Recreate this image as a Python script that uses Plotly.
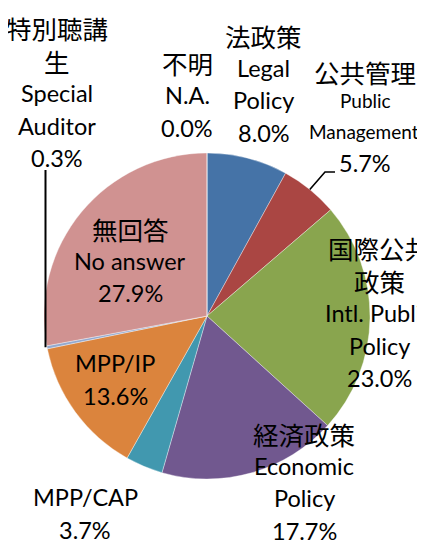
import math
import plotly.graph_objects as go

labels = ["Legal Policy", "Public Management", "Intl. Public Policy", "Economic Policy",
          "MPP/CAP", "MPP/IP", "Special Auditor", "No answer", "N.A."]
values = [8.0, 5.7, 23.0, 17.7, 3.7, 13.6, 0.3, 27.9, 0.0]
colors = ["#4573a7", "#aa4643", "#89a54e", "#71588f", "#4198af", "#db843d",
          "#93a9cf", "#d09291", "#80699b"]

label_lines = [
    ["法政策", "Legal", "Policy", "8.0%"],
    ["公共管理", "Public", "Management", "5.7%"],
    ["国際公共", "政策", "Intl. Public", "Policy", "23.0%"],
    ["経済政策", "Economic", "Policy", "17.7%"],
    ["MPP/CAP", "3.7%"],
    ["MPP/IP", "13.6%"],
    ["特別聴講", "生", "Special", "Auditor", "0.3%"],
    ["無回答", "No answer", "27.9%"],
    ["不明", "N.A.", "0.0%"],
]
# label anchor (center x, first-line y) in page pixels
label_pos = [
    (264, 35), (365, 72), (379, 248), (304, 433), (85, 497),
    (115, 363), (57, 28), (130, 228), (187, 63),
]

OFF = 8  # default page body margin
PW, PH = 425, 545
W, H = PW - OFF, PH - OFF
cx, cy, r = 207, 316, 163


def px(x):
    return (x - OFF) / W


def py(y):
    return 1 - (y - OFF) / H


def is_cjk(t):
    return any(ord(c) > 0x2E80 for c in t)


fig = go.Figure()
fig.add_trace(go.Pie(
    labels=labels, values=values, sort=False, direction="clockwise", rotation=0,
    marker=dict(colors=colors, line=dict(color="rgba(255,255,255,0.6)", width=0.6)),
    textinfo="none", hoverinfo="label+percent", showlegend=False,
    domain=dict(x=[px(cx - r), px(cx + r)], y=[py(cy + r), py(cy - r)]),
))

fam = "Lato, 'Noto Sans CJK JP', sans-serif"
cjk_fam = "'Noto Sans CJK JP', sans-serif"
pitch = 32.5
for i, lines in enumerate(label_lines):
    x0, y0 = label_pos[i]
    for j, t in enumerate(lines):
        size = 23.5
        f = fam
        xx = x0
        if is_cjk(t):
            size = 25.5
            f = cjk_fam
        y = y0 + j * pitch
        if labels[i] == "Public Management":
            y = [72, 100, 132, 163][j]
            if t == "Public":
                size = 19
            elif t == "Management":
                size = 19
                xx = 364
        fig.add_annotation(x=px(xx), y=py(y), xref="paper", yref="paper",
                           text=t, showarrow=False, xanchor="center", yanchor="middle",
                           font=dict(family=f, size=size, color="#000000"))


def edge_point(idx):
    before = sum(values[:idx])
    mid = (before + values[idx] / 2) / sum(values) * 2 * math.pi
    return cx + r * math.sin(mid), cy - r * math.cos(mid)


ex, ey = edge_point(1)
fig.add_shape(type="path", xref="paper", yref="paper",
              path=f"M {px(ex)},{py(ey)} L {px(325)},{py(172)} L {px(335)},{py(172)}",
              line=dict(color="#000000", width=1.6))
sx, sy = edge_point(6)
fig.add_shape(type="line", xref="paper", yref="paper",
              x0=px(sx - 1.5), y0=py(sy), x1=px(45.5), y1=py(170),
              line=dict(color="#000000", width=2))

fig.update_layout(width=W, height=H, margin=dict(l=0, r=0, t=0, b=0),
                  paper_bgcolor="white", plot_bgcolor="white")
fig.write_html("out.html")
